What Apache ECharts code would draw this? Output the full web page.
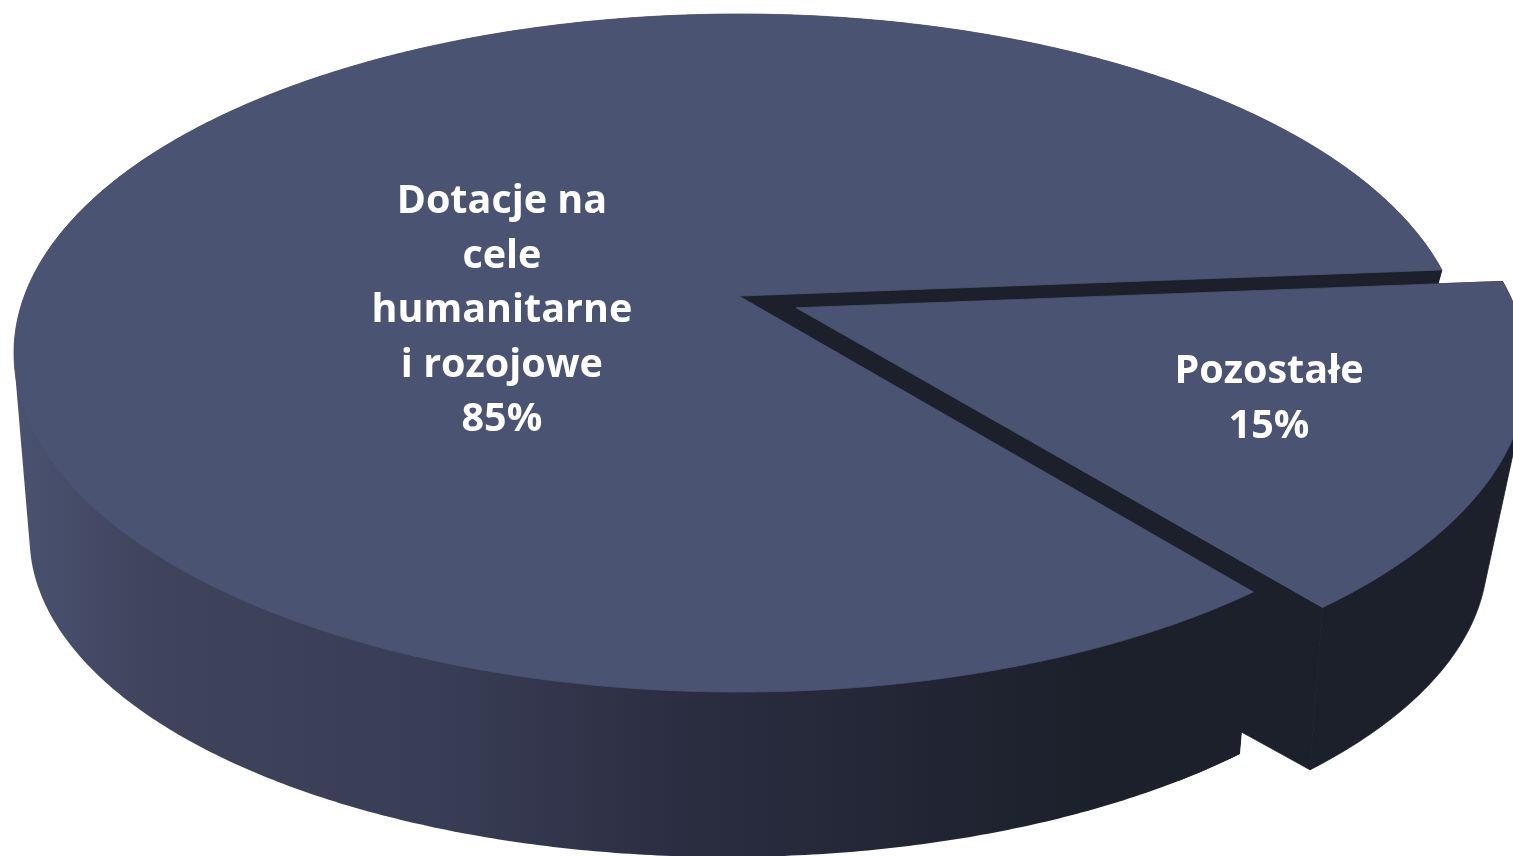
<!DOCTYPE html>
<html><head><meta charset="utf-8"><title>Dotacje</title>
<style>html,body{margin:0;padding:0;background:#fff;overflow:hidden}#c{width:1513px;height:856px}</style>
<script src="https://cdn.jsdelivr.net/npm/echarts@6/dist/echarts.min.js"></script></head>
<body><div id="c"></div>
<script>
const categories = ['Dotacje na\ncele\nhumanitarne\ni rozojowe', 'Pozostałe'];
const values = [85, 15];
const explode = [0, 0.087];
const explodeDir = -24;
const startAngle = 4.6;
const rimWarp = 2;
const topPlane = {cx: 0, cy: 0, rx: 1, ry: 1, k: 0.168};
const bottomPlane = {cx: -0.0165, cy: -0.5427, rx: 0.962, ry: 0.944, k: 0.217};
const labelAnchors = [[-0.327, 0.124], [0.731, -0.136]];
const topColor = '#4b5372', wallColor = '#1c202b';
const sideStops = [[0.01,'#4a5271'],[0.1,'#3f445c'],[0.3,'#383c54'],[0.46,'#2a2d40'],[0.72,'#1c202b'],[1,'#1c202b']];

const total = values.reduce((a, b) => a + b, 0);
const rad = d => d * Math.PI / 180;
function spans() {
  let a = startAngle;
  return values.map(v => { const s = a; a += v / total * 360; return [s, a]; });
}
function projector(i, plane, api) {
  const ox = explode[i] * Math.cos(rad(explodeDir)), oy = explode[i] * Math.sin(rad(explodeDir));
  const k = plane.k, s = Math.sqrt(1 - k * k);
  return (x, y) => {
    x += ox; y += oy;
    const d = 1 + k * y;
    return api.coord([plane.cx + plane.rx * x * s / d, plane.cy + plane.ry * (y + k) / d]);
  };
}
function rimPoint(p, a) {
  const t = rad(a + rimWarp * Math.sin(2 * rad(a - startAngle)));
  return p(Math.cos(t), Math.sin(t));
}
function arc(p, a0, a1) {
  const pts = [], n = Math.ceil(Math.abs(a1 - a0) * 2);
  for (let j = 0; j <= n; j++) pts.push(rimPoint(p, a0 + (a1 - a0) * j / n));
  return pts;
}
function hull(points) {
  const pts = points.slice().sort((a, b) => a[0] - b[0] || a[1] - b[1]);
  const cross = (o, a, b) => (a[0] - o[0]) * (b[1] - o[1]) - (a[1] - o[1]) * (b[0] - o[0]);
  const half = list => {
    const h = [];
    for (const q of list) {
      while (h.length > 1 && cross(h[h.length - 2], h[h.length - 1], q) <= 0) h.pop();
      h.push(q);
    }
    h.pop();
    return h;
  };
  return half(pts).concat(half(pts.slice().reverse()));
}
function poly(points, fill, edge) {
  return {type: 'polygon', shape: {points}, style: {fill, stroke: edge ? fill : null, lineWidth: edge ? 0.8 : 0}};
}
function renderWalls(params, api) {
  const i = api.value(0), [a0, a1] = spans()[i];
  const t = projector(i, topPlane, api), b = projector(i, bottomPlane, api);
  const side = i === 0 ? new echarts.graphic.LinearGradient(0, 0, api.getWidth(), 0,
    sideStops.map(([offset, color]) => ({offset, color})), true) : wallColor;
  const at = t(0, 0), ab = b(0, 0);
  const children = [];
  // outer wall: convex pieces of the rim, overlapping so no seam shows
  const step = 150, overlap = 12;
  for (let s = a0; s < a1; s += step) {
    const e = Math.min(a1, s + step + overlap);
    children.push(poly(hull(arc(t, s, e).concat(arc(b, s, e))), side, i === 1));
  }
  children.push(poly([at, rimPoint(t, a0), rimPoint(b, a0), ab], wallColor, true));
  children.push(poly([at, rimPoint(t, a1), rimPoint(b, a1), ab], wallColor, true));
  return {type: 'group', children};
}
function renderTops(params, api) {
  const i = api.value(0), [a0, a1] = spans()[i];
  const t = projector(i, topPlane, api);
  return poly([t(0, 0)].concat(arc(t, a0, a1)), topColor, true);
}
function renderLabels(params, api) {
  const i = api.value(0), c = api.coord(labelAnchors[i]);
  return {type: 'text', x: c[0], y: c[1], style: {
    text: categories[i] + '\n' + values[i] + '%', fill: '#fff',
    align: 'center', verticalAlign: 'middle',
    font: 'bold 39.5px "Open Sans"', lineHeight: 54.5
  }};
}
const order = values.map((v, i) => [i, v]);
const chart = echarts.init(document.getElementById('c'), null, {renderer: 'canvas'});
chart.setOption({
  animation: false,
  backgroundColor: '#fff',
  grid: {left: 0, right: 0, top: 0, bottom: 0},
  xAxis: {type: 'value', min: -1.0193, max: 1.0676, show: false},
  yAxis: {type: 'value', min: -1.4838, max: 1.0413, show: false},
  series: [
    {type: 'custom', name: 'walls', z: 1, silent: true, clip: false, coordinateSystem: 'cartesian2d', renderItem: renderWalls, data: order},
    {type: 'custom', name: 'tops', z: 2, silent: true, clip: false, coordinateSystem: 'cartesian2d', renderItem: renderTops, data: order},
    {type: 'custom', name: 'labels', z: 3, silent: true, clip: false, coordinateSystem: 'cartesian2d', renderItem: renderLabels, data: order}
  ]
});
</script></body></html>
